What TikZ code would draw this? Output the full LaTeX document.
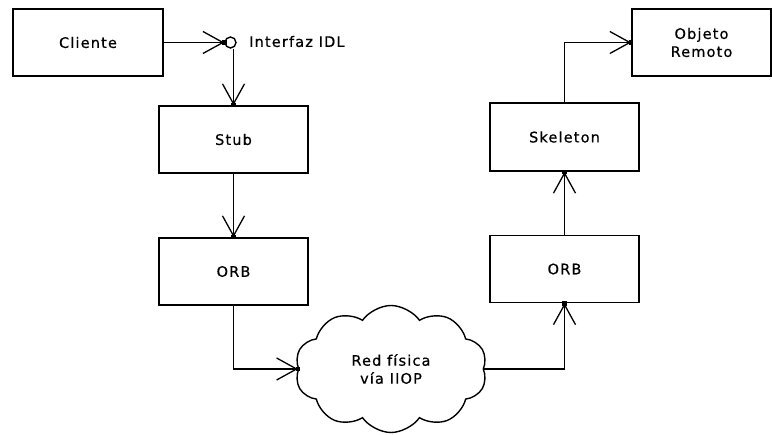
\documentclass[tikz,border=0pt]{standalone}
\usepackage{fontspec}
\setmainfont{DejaVu Sans}[LetterSpace=8,FakeBold=0.6]
\usetikzlibrary{arrows.meta,shapes.symbols}
\begin{document}
\begin{tikzpicture}[x=1pt,y=-1pt,
  every node/.style={font=\fontsize{14.5}{18}\selectfont},
  box/.style={draw, line width=1.6pt, minimum width=149pt, minimum height=67pt, inner sep=0pt, align=center},
  conn/.style={draw, line width=1.5pt},
  barb/.style={conn, -{Straight Barb[length=20pt,width=22pt,line width=1.3pt]}},
  tipdot/.style={fill, minimum size=4.5pt, inner sep=0pt, draw=none}]
\useasboundingbox (0,0) rectangle (772,435);
\node[box, minimum width=150pt] (cli) at (88,42.5) {Cliente};
\node[circle, draw, line width=1.4pt, minimum size=11pt, inner sep=0pt] (idl) at (230.5,42.5) {};
\node[anchor=west, inner sep=0pt] (idllab) at (249,41.5) {Interfaz IDL};
\node[box] (stub) at (233.5,139.5) {Stub};
\node[box] (orbl) at (233.5,271.5) {ORB};
\node[cloud, draw, line width=1.4pt, cloud puffs=10, cloud puff arc=110, aspect=1.5,
      minimum width=192pt, minimum height=127pt, inner sep=0pt, align=center] (red) at (391,369)
      {Red física\\vía IIOP};
\node[box] (orbr) at (564.5,269) {ORB};
\node[box, minimum height=68pt] (skel) at (564.5,137) {Skeleton};
\node[box, minimum width=139pt] (obj) at (701.5,42.5) {Objeto\\Remoto};
% connectors
\draw[barb] (cli.east) -- (idl.west);
\node[tipdot] (d1) at (idl.west) {};
\draw[barb] (idl.south -| stub.north) -- (stub.north);
\node[tipdot] (d2) at (stub.north) {};
\draw[barb] (stub.south) -- (orbl.north);
\node[tipdot] (d3) at (orbl.north) {};
\draw[barb] (orbl.south) |- (red.west);
\node[tipdot] (d4) at (red.west) {};
\draw[barb] (red.east) -| (orbr.south);
\node[tipdot] (d5) at (orbr.south) {};
\draw[barb] (orbr.north) -- (skel.south);
\node[tipdot] (d6) at (skel.south) {};
\draw[barb] (skel.north) |- (obj.west);
\node[tipdot] (d7) at (obj.west) {};
\end{tikzpicture}
\end{document}
